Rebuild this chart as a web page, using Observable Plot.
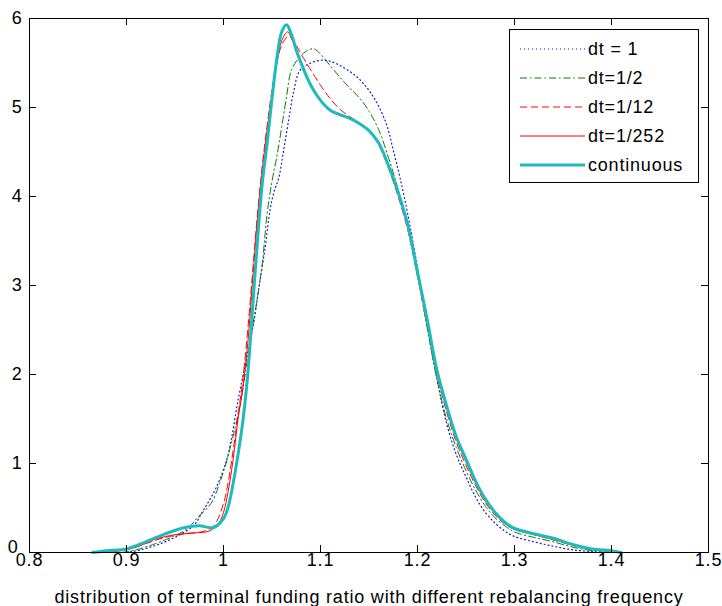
<!DOCTYPE html>
<html><head><meta charset="utf-8">
<script src="https://cdn.jsdelivr.net/npm/d3@7"></script>
<script src="https://cdn.jsdelivr.net/npm/@observablehq/plot@0.6"></script>
<style>
html,body{margin:0;padding:0;background:#fff;}
#chart{position:relative;width:722px;height:606px;}
#chart svg text{letter-spacing:0.8px;}
</style></head><body><div id="chart"></div>
<script>
// ---- data ----
const seriesNames = ["dt = 1", "dt=1/2", "dt=1/12", "dt=1/252", "continuous"];

const dt1 = [[0.90,0],[0.915,0.03],[0.93,0.08],[0.942,0.13],[0.955,0.2],[0.969,0.3],[0.979,0.47],[0.992,0.72],[1.004,1.07],[1.015,1.71],[1.025,2.25],[1.031,2.57],[1.036,2.94],[1.043,3.43],[1.048,3.85],[1.052,4.05],[1.057,4.21],[1.062,4.52],[1.067,4.85],[1.072,5.16],[1.079,5.42],[1.09,5.5],[1.10,5.53],[1.11,5.52],[1.125,5.44],[1.138,5.34],[1.148,5.22],[1.155,5.11],[1.162,4.97],[1.169,4.78],[1.175,4.52],[1.182,4.21],[1.19,3.8],[1.20,3.2],[1.21,2.55],[1.22,1.95],[1.23,1.45],[1.24,1.1],[1.25,0.85],[1.26,0.62],[1.27,0.45],[1.28,0.33],[1.29,0.24],[1.30,0.18],[1.32,0.12],[1.34,0.07],[1.36,0.03],[1.38,0.01],[1.39,0]];

const dtHalf = [[0.895,0],[0.91,0.03],[0.93,0.1],[0.95,0.19],[0.963,0.27],[0.973,0.39],[0.987,0.55],[0.997,0.81],[1.007,1.18],[1.018,1.71],[1.025,2.2],[1.031,2.6],[1.035,2.87],[1.04,3.25],[1.045,3.81],[1.05,4.17],[1.055,4.45],[1.06,4.78],[1.065,5.12],[1.07,5.42],[1.078,5.56],[1.085,5.63],[1.093,5.66],[1.10,5.6],[1.11,5.47],[1.12,5.34],[1.13,5.22],[1.14,5.11],[1.15,4.96],[1.16,4.75],[1.17,4.44],[1.18,4.08],[1.19,3.65],[1.20,3.12],[1.21,2.52],[1.22,1.95],[1.23,1.5],[1.24,1.18],[1.25,0.92],[1.26,0.7],[1.27,0.52],[1.28,0.39],[1.29,0.3],[1.30,0.23],[1.32,0.17],[1.34,0.12],[1.36,0.06],[1.38,0.02],[1.395,0]];

const dt12 = [[0.875,0],[0.90,0.03],[0.92,0.1],[0.94,0.17],[0.96,0.21],[0.98,0.24],[0.99,0.3],[1.0,0.55],[1.005,0.8],[1.01,1.15],[1.015,1.55],[1.02,1.95],[1.025,2.5],[1.03,3.15],[1.035,3.8],[1.04,4.35],[1.045,4.8],[1.05,5.2],[1.055,5.5],[1.06,5.7],[1.067,5.8],[1.075,5.7],[1.08,5.6],[1.09,5.42],[1.10,5.25],[1.11,5.1],[1.12,4.98],[1.13,4.9],[1.14,4.83],[1.15,4.74],[1.16,4.58],[1.17,4.32],[1.18,4.0],[1.19,3.62],[1.20,3.1],[1.21,2.55],[1.22,2.0],[1.23,1.58],[1.24,1.24],[1.25,0.98],[1.26,0.75],[1.27,0.56],[1.28,0.42],[1.29,0.32],[1.30,0.26],[1.32,0.2],[1.34,0.14],[1.36,0.08],[1.38,0.03],[1.40,0.01],[1.405,0]];

const dt252 = [[0.87,0],[0.89,0.02],[0.91,0.06],[0.93,0.15],[0.95,0.2],[0.97,0.22],[0.985,0.24],[0.995,0.33],[1.0,0.45],[1.005,0.7],[1.01,1.05],[1.015,1.5],[1.02,1.85],[1.025,2.35],[1.03,3.05],[1.035,3.75],[1.04,4.3],[1.045,4.75],[1.05,5.15],[1.055,5.5],[1.06,5.75],[1.066,5.85],[1.07,5.78],[1.075,5.62],[1.08,5.48],[1.09,5.24],[1.10,5.07],[1.11,4.96],[1.12,4.91],[1.13,4.87],[1.14,4.81],[1.15,4.73],[1.16,4.59],[1.17,4.34],[1.18,4.03],[1.19,3.66],[1.20,3.13],[1.21,2.6],[1.22,2.03],[1.23,1.62],[1.24,1.28],[1.25,1.02],[1.26,0.78],[1.27,0.58],[1.28,0.44],[1.29,0.33],[1.30,0.26],[1.32,0.2],[1.34,0.15],[1.36,0.08],[1.38,0.035],[1.40,0.015],[1.41,0]];

const continuous = [[0.865,0],[0.88,0.02],[0.90,0.04],[0.92,0.12],[0.94,0.21],[0.96,0.28],[0.975,0.30],[0.99,0.28],[1.0,0.38],[1.005,0.52],[1.01,0.78],[1.015,1.1],[1.02,1.48],[1.025,2.0],[1.03,2.75],[1.035,3.5],[1.04,4.15],[1.045,4.6],[1.05,5.1],[1.055,5.55],[1.06,5.85],[1.065,5.93],[1.07,5.82],[1.075,5.65],[1.08,5.5],[1.09,5.25],[1.10,5.08],[1.11,4.97],[1.12,4.92],[1.13,4.88],[1.14,4.82],[1.15,4.74],[1.16,4.6],[1.17,4.35],[1.18,4.05],[1.19,3.68],[1.20,3.15],[1.21,2.62],[1.22,2.05],[1.23,1.65],[1.24,1.3],[1.25,1.05],[1.26,0.8],[1.27,0.6],[1.28,0.45],[1.29,0.34],[1.30,0.27],[1.32,0.21],[1.34,0.16],[1.36,0.09],[1.38,0.04],[1.40,0.02],[1.41,0]];

const xTicks = [0.8, 0.9, 1.0, 1.1, 1.2, 1.3, 1.4, 1.5];
const yTicks = [0, 1, 2, 3, 4, 5, 6];
const xLabel = "distribution of terminal funding ratio with different rebalancing frequency";

// ---- styles ----
const seriesData = [dt1, dtHalf, dt12, dt252, continuous];
const colors = ["#1010e0", "#0a7a0a", "#ff0000", "#ff0000", "#1cbcbc"];
const dashes = ["1,3", "7,3,1.5,3", "7,4", null, null];
const widths = [1.2, 1, 1, 1, 3];

const table = seriesData.flatMap((arr, i) => arr.map(([x, y]) => ({series: seriesNames[i], x, y})));

const W = 722, H = 606;
const mL = 29, mR = 14, mT = 18, mB = 54;
const innerW = W - mL - mR, innerH = H - mT - mB;
const tick = 7;
const FS = 18;

const lineMarks = seriesNames.map((name, i) => Plot.line(table.filter(d => d.series === name), {
  x: "x", y: "y", stroke: colors[i], strokeWidth: widths[i],
  strokeDasharray: dashes[i] || undefined, curve: "catmull-rom"
}));

const chart = Plot.plot({
  width: W, height: H,
  marginLeft: mL, marginRight: mR, marginTop: mT, marginBottom: mB,
  style: {fontFamily: "'Liberation Sans', Arial, sans-serif", fontSize: FS + "px", color: "#000", background: "#fff"},
  x: {domain: [0.8, 1.5]},
  y: {domain: [0, 6]},
  marks: [
    ...lineMarks,
    Plot.frame({stroke: "#000", strokeWidth: 1}),
    Plot.tickX(xTicks, {x: d => d, insetTop: innerH - tick, stroke: "#000"}),
    Plot.tickX(xTicks, {x: d => d, insetBottom: innerH - tick, stroke: "#000"}),
    Plot.tickY(yTicks, {y: d => d, insetRight: innerW - tick, stroke: "#000"}),
    Plot.tickY(yTicks, {y: d => d, insetLeft: innerW - tick, stroke: "#000"}),
    Plot.axisX({ticks: xTicks, tickSize: 0, tickPadding: 1, tickFormat: d => String(d), label: null, fontSize: FS}),
    Plot.axisY({ticks: yTicks.filter(d => d > 0), tickSize: 0, tickPadding: 7, tickFormat: d => String(d), label: null, fontSize: FS}),
    Plot.axisY({ticks: yTicks.filter(d => d === 0), tickSize: 0, tickPadding: 11, dy: -5, tickFormat: d => String(d), label: null, fontSize: FS}),
    Plot.text([xLabel], {text: d => d, frameAnchor: "bottom", dy: 50, lineAnchor: "bottom", fontSize: FS})
  ]
});
document.getElementById("chart").appendChild(chart);

// ---- legend (inside the axes, top right) ----
const svg = d3.select(chart);
const lg = svg.append("g").attr("font-family", "'Liberation Sans', Arial, sans-serif")
  .attr("font-size", FS).attr("text-anchor", "start");
lg.append("rect").attr("x", 509.5).attr("y", 29.5).attr("width", 189).attr("height", 153)
  .attr("fill", "#fff").attr("stroke", "#000");
seriesNames.forEach((name, i) => {
  const y = 49 + i * 29;
  lg.append("line").attr("x1", 520).attr("x2", 585).attr("y1", y).attr("y2", y)
    .attr("stroke", colors[i]).attr("stroke-width", widths[i])
    .attr("stroke-dasharray", dashes[i] || null);
  lg.append("text").attr("x", 588).attr("y", y).attr("dy", "0.35em").attr("fill", "#000")
    .attr("text-anchor", "start").text(name);
});
</script></body></html>
